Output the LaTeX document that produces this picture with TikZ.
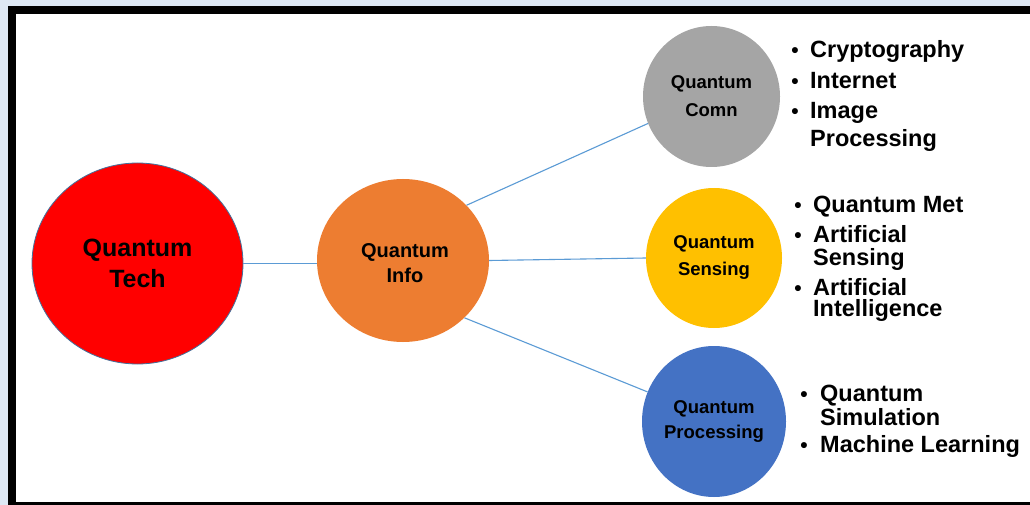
\documentclass[tikz,border=0pt]{standalone}
\usepackage{fontspec}
\setmainfont{Liberation Sans}
\usetikzlibrary{shapes.geometric}
\definecolor{bgblue}{HTML}{DEE8F4}
\definecolor{qred}{HTML}{FF0000}
\definecolor{qorange}{HTML}{ED7D31}
\definecolor{qgray}{HTML}{A5A5A5}
\definecolor{qgold}{HTML}{FFC000}
\definecolor{qblue}{HTML}{4472C4}
\definecolor{techedge}{HTML}{41719C}
\definecolor{connblue}{HTML}{5B9BD5}
\begin{document}
\begin{tikzpicture}[x=1pt,y=-1pt,
  circ/.style={ellipse, inner sep=0pt, align=center, text=black},
  conn/.style={draw=connblue, line width=1.1pt},
  itemtext/.style={anchor=base west, inner sep=0pt, font=\bfseries\fontsize{23.5}{27}\selectfont},
  bulletmark/.style={anchor=base, inner sep=0pt, font=\bfseries\fontsize{21}{27}\selectfont}]
\useasboundingbox (0,0) rectangle (1030,505);
\fill[bgblue] (0,0) rectangle (1030,505);
\fill[black] (8,6) rectangle (1030,505);
\fill[white] (16,14) rectangle (1030,502);

\node[circ, fill=qred, draw=techedge, line width=0.8pt, minimum width=211pt, minimum height=201pt,
  font=\bfseries\fontsize{25}{31}\selectfont] (tech) at (137.5,263.5) {Quantum\\Tech};
\node[circ, fill=qorange, minimum width=172pt, minimum height=163pt] (info) at (403,260.5) {};
\node[align=center, inner sep=0pt, font=\bfseries\fontsize{20}{25}\selectfont] (infotext) at (405,263) {Quantum\\Info};
\node[circ, fill=qgray, minimum width=137pt, minimum height=141pt,
  font=\bfseries\fontsize{18.5}{28}\selectfont] (comn) at (711.5,96.5) {Quantum\\Comn};
\node[circ, fill=qgold, minimum width=136pt, minimum height=140pt,
  font=\bfseries\fontsize{18.5}{27}\selectfont] (sens) at (714,258) {Quantum\\Sensing};
\node[circ, fill=qblue, minimum width=144pt, minimum height=151pt,
  font=\bfseries\fontsize{18.5}{25}\selectfont] (proc) at (714,421.5) {Quantum\\Processing};

\draw[conn] (tech.east) -- (tech.east -| info.west);
\draw[conn] (info.41.5) -- (comn.203.4);
\draw[conn] (info.east) -- (sens.west);
\draw[conn] (info.317.5) -- (proc.156);

% Communication list
\node[bulletmark] (b1) at (795,58) {•};
\node[itemtext] (t1) at (810,58) {Cryptography};
\node[bulletmark] (b2) at (795,89) {•};
\node[itemtext] (t2) at (810,89) {Internet};
\node[bulletmark] (b3) at (795,119) {•};
\node[itemtext] (t3) at (810,119) {Image};
\node[itemtext] (t3b) at (810,147) {Processing};

% Sensing list
\node[bulletmark] (b4) at (798,212) {•};
\node[itemtext] (t4) at (813,212) {Quantum Met};
\node[bulletmark] (b5) at (798,242) {•};
\node[itemtext] (t5) at (813,242) {Artificial};
\node[itemtext] (t5b) at (813,265) {Sensing};
\node[bulletmark] (b6) at (798,295) {•};
\node[itemtext] (t6) at (813,295) {Artificial};
\node[itemtext] (t6b) at (813,316) {Intelligence};

% Processing list
\node[bulletmark] (b7) at (804,401) {•};
\node[itemtext] (t7) at (820,401) {Quantum};
\node[itemtext] (t7b) at (820,425) {Simulation};
\node[bulletmark] (b8) at (804,452) {•};
\node[itemtext] (t8) at (820,452) {Machine Learning};
\end{tikzpicture}
\end{document}
